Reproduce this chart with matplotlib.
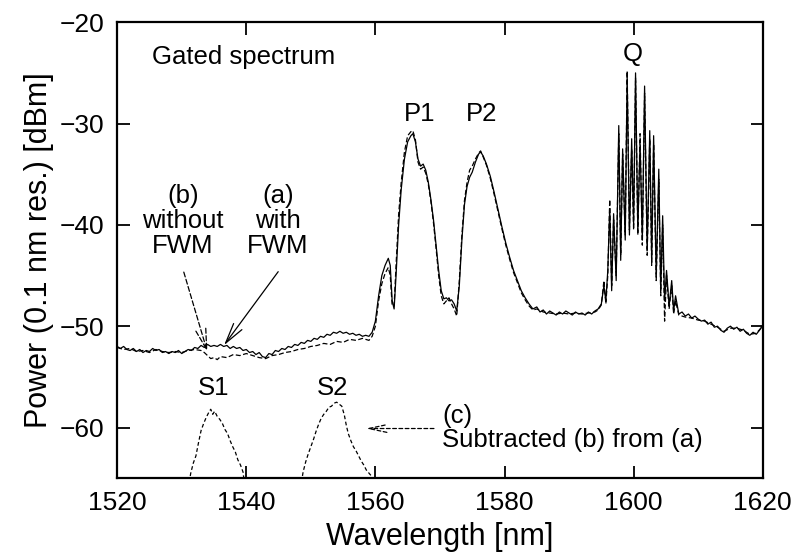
import matplotlib
matplotlib.use('Agg')
import matplotlib.pyplot as plt

plt.rcParams['font.family'] = ['Liberation Sans', 'DejaVu Sans']
plt.rcParams['font.size'] = 18.5

# (a) with FWM, solid
wl_a = [1520.0, 1520.5, 1521.0, 1521.5, 1522.0, 1522.5, 1523.0, 1523.5, 1524.0, 1524.5,
        1525.0, 1525.5, 1526.0, 1526.5, 1527.0, 1527.5, 1528.0, 1528.5, 1529.0, 1529.5,
        1530.0, 1530.5, 1531.0, 1531.5, 1532.0, 1532.5, 1533.0, 1533.5, 1534.0, 1534.5,
        1535.0, 1535.5, 1536.0, 1536.5, 1537.0, 1537.5, 1538.0, 1538.5, 1539.0, 1539.5,
        1540.0, 1540.5, 1541.0, 1541.5, 1542.0, 1542.5, 1543.0, 1543.5, 1544.0, 1544.5,
        1545.0, 1545.5, 1546.0, 1546.5, 1547.0, 1547.5, 1548.0, 1548.5, 1549.0, 1549.5,
        1550.0, 1550.5, 1551.0, 1551.5, 1552.0, 1552.5, 1553.0, 1553.5, 1554.0, 1554.5,
        1555.0, 1555.5, 1556.0, 1556.5, 1557.0, 1557.5, 1558.0, 1558.5, 1559.0, 1559.5,
        1560.0, 1560.5, 1561.0, 1561.5, 1562.0, 1562.3, 1562.6, 1562.9, 1563.2, 1563.6,
        1564.0, 1564.5, 1565.0, 1565.5, 1565.8, 1566.2, 1566.6, 1567.0, 1567.4, 1567.8,
        1568.2, 1568.6, 1569.0, 1569.4, 1569.8, 1570.2, 1570.6, 1571.0, 1571.4, 1571.8,
        1572.2, 1572.6, 1573.0, 1573.4, 1573.8, 1574.2, 1574.6, 1575.0, 1575.5, 1576.0,
        1576.3, 1576.7, 1577.2, 1577.8, 1578.4, 1579.0, 1579.6, 1580.2, 1580.8, 1581.4,
        1582.0, 1582.6, 1583.2, 1583.8, 1584.4, 1585.0, 1585.5, 1586.0, 1586.5, 1587.0,
        1587.5, 1588.0, 1588.5, 1589.0, 1589.5, 1590.0, 1590.5, 1591.0, 1591.5, 1592.0,
        1592.5, 1593.0, 1593.5, 1594.0, 1594.5, 1595.0, 1595.4, 1595.7, 1596.0, 1596.3,
        1596.6, 1596.9, 1597.3, 1597.7, 1598.0, 1598.3, 1598.7, 1599.0, 1599.35, 1599.7,
        1600.0, 1600.3, 1600.65, 1601.0, 1601.35, 1601.7, 1602.1, 1602.5, 1602.8, 1603.1,
        1603.5, 1603.9, 1604.2, 1604.5, 1604.8, 1605.1, 1605.5, 1605.9, 1606.2, 1606.5,
        1607.0, 1607.5, 1608.0, 1608.5, 1609.0, 1609.5, 1610.0, 1610.5, 1611.0, 1611.5,
        1612.0, 1612.5, 1613.0, 1613.5, 1614.0, 1614.5, 1615.0, 1615.5, 1616.0, 1616.5,
        1617.0, 1617.5, 1618.0, 1618.5, 1619.0, 1619.5, 1620.0]
pw_a = [-52.0, -52.2, -52.0, -52.3, -52.4, -52.2, -52.5, -52.3, -52.6, -52.4,
        -52.5, -52.2, -52.4, -52.3, -52.6, -52.5, -52.7, -52.5, -52.6, -52.4,
        -52.7, -52.5, -52.3, -52.4, -52.1, -52.2, -51.9, -52.1, -51.8, -52.0,
        -51.9, -52.0, -51.8, -52.0, -51.9, -52.2, -52.0, -52.2, -52.1, -52.4,
        -52.3, -52.6, -52.5, -52.8, -52.6, -53.0, -53.1, -52.7, -52.8, -52.4,
        -52.5, -52.2, -52.3, -52.0, -52.1, -51.8, -51.9, -51.6, -51.7, -51.4,
        -51.5, -51.2, -51.3, -51.0, -51.1, -50.8, -50.9, -50.6, -50.7, -50.5,
        -50.7, -50.6, -50.8, -50.7, -50.9, -50.8, -51.0, -50.9, -51.0, -50.6,
        -49.5, -47.0, -45.0, -44.0, -43.3, -44.0, -47.5, -48.3, -45.0, -40.0,
        -36.5, -33.5, -31.8, -31.2, -31.0, -31.8, -33.5, -34.2, -34.0, -34.6,
        -35.8, -37.5, -39.5, -42.0, -44.5, -46.5, -47.3, -47.2, -47.5, -47.4,
        -47.8, -48.5, -46.0, -41.5, -38.0, -36.2, -35.3, -34.8, -33.8, -33.0,
        -32.8, -33.2, -34.0, -35.2, -36.8, -38.5, -40.2, -41.8, -43.2, -44.5,
        -45.5, -46.5, -47.2, -47.8, -48.3, -48.1, -48.6, -48.4, -48.8, -48.5,
        -48.7, -48.9, -48.6, -48.8, -48.5, -48.7, -48.9, -48.6, -48.8, -48.7,
        -48.9, -48.6, -48.8, -48.5, -48.3, -47.8, -46.0, -47.5, -44.5, -38.4,
        -46.5, -38.9, -45.5, -30.2, -43.5, -32.5, -41.5, -25.3, -41.0, -31.5,
        -40.0, -25.0, -40.5, -32.0, -41.5, -26.3, -42.5, -30.7, -43.5, -31.2,
        -45.0, -34.5, -46.5, -39.1, -47.5, -44.5, -48.0, -45.5, -48.5, -47.0,
        -48.8, -48.6, -49.0, -48.8, -49.2, -49.0, -49.3, -49.5, -49.4, -49.8,
        -49.6, -50.1, -50.0, -50.4, -50.6, -50.2, -50.0, -50.3, -50.1, -50.5,
        -50.3, -50.7, -50.9, -50.6, -50.8, -50.4, -49.9]

# (b) without FWM, dashed
wl_b = [1520, 1521, 1522, 1523, 1524, 1525, 1526, 1527, 1528, 1529,
        1530, 1531, 1532, 1533, 1533.5, 1534, 1534.5, 1535, 1535.5, 1536,
        1537, 1538, 1539, 1540, 1541, 1542, 1543, 1544, 1545, 1546,
        1547, 1548, 1549, 1550, 1551, 1552, 1553, 1554, 1555, 1556,
        1557, 1558, 1559, 1559.5, 1560, 1560.5, 1561, 1561.5, 1562, 1562.3,
        1562.6, 1562.9, 1563.2, 1563.6, 1564, 1564.5, 1565, 1565.5, 1565.8, 1566.2,
        1566.6, 1567, 1567.4, 1567.8, 1568.2, 1568.6, 1569, 1569.4, 1569.8, 1570.2,
        1570.6, 1571, 1571.4, 1571.8, 1572.2, 1572.6, 1573, 1573.4, 1573.8, 1574.2,
        1574.6, 1575, 1575.5, 1576, 1576.3, 1576.7, 1577.2, 1577.8, 1578.4, 1579,
        1579.6, 1580.2, 1580.8, 1581.4, 1582, 1582.6, 1583.2, 1583.8, 1584.4, 1585,
        1586, 1587, 1588, 1589, 1590, 1591, 1592, 1593, 1594, 1594.5,
        1595, 1595.4, 1595.7, 1596.0, 1596.3, 1596.6, 1596.9, 1597.3, 1597.7, 1598.0,
        1598.3, 1598.7, 1599.0, 1599.35, 1599.7, 1600.0, 1600.3, 1600.65, 1601.0, 1601.35,
        1601.7, 1602.1, 1602.5, 1602.8, 1603.1, 1603.5, 1603.9, 1604.2, 1604.5, 1604.8,
        1605.1, 1605.5, 1605.9, 1606.2, 1606.5, 1607, 1608, 1609, 1610, 1611,
        1612, 1613, 1614, 1615, 1616, 1617, 1618, 1619, 1620]
pw_b = [-52.1, -52.3, -52.2, -52.5, -52.4, -52.6, -52.3, -52.5, -52.6, -52.5,
        -52.6, -52.4, -52.3, -52.4, -52.6, -52.9, -53.2, -53.1, -53.3, -53.0,
        -53.1, -52.8, -52.9, -52.7, -52.9, -53.1, -53.2, -52.9, -52.8, -52.6,
        -52.5, -52.3, -52.2, -52.0, -51.9, -51.7, -51.8, -51.5, -51.6, -51.3,
        -51.4, -51.2, -51.4, -51.0, -50.0, -47.5, -45.8, -44.8, -44.2, -45.0,
        -48.0, -48.0, -44.0, -39.0, -35.8, -32.8, -31.2, -30.8, -30.7, -31.6,
        -33.8, -34.5, -34.3, -34.9, -36.0, -37.7, -39.8, -42.3, -45.0, -47.0,
        -47.8, -47.5, -47.2, -47.8, -48.3, -49.0, -45.5, -41.0, -37.6, -35.8,
        -34.6, -34.2, -33.5, -32.9, -32.7, -33.3, -34.1, -35.4, -37.0, -38.7,
        -40.4, -42.0, -43.4, -44.7, -45.7, -46.7, -47.4, -48.0, -48.4, -48.3,
        -48.6, -48.7, -48.8, -48.7, -48.8, -48.7, -48.8, -48.7, -48.6, -48.4,
        -47.9, -45.5, -47.8, -45.0, -37.5, -46.0, -39.5, -45.0, -31.0, -43.0,
        -33.0, -41.0, -24.8, -40.5, -32.5, -40.5, -25.5, -41.0, -31.0, -42.0,
        -27.0, -43.0, -31.5, -44.0, -32.0, -45.5, -35.5, -47.0, -40.0, -49.5,
        -45.0, -48.3, -46.0, -48.8, -47.5, -48.9, -49.1, -49.2, -49.4, -49.5,
        -49.8, -50.1, -50.5, -50.2, -50.2, -50.4, -50.8, -50.7, -50.0]

# (c) subtracted (b) from (a): S1 and S2
wl_s1 = [1531.0, 1531.4, 1531.8, 1532.2, 1532.6, 1533.0, 1533.4, 1533.8, 1534.2, 1534.5,
         1534.8, 1535.1, 1535.5, 1535.9, 1536.3, 1536.7, 1537.1, 1537.5, 1537.9, 1538.3,
         1538.7, 1539.1, 1539.5, 1539.8]
pw_s1 = [-66.0, -64.5, -63.5, -62.8, -61.5, -60.3, -59.6, -59.0, -58.5, -58.2,
         -58.7, -58.4, -58.9, -59.2, -59.6, -60.2, -60.6, -61.3, -61.9, -62.4,
         -63.2, -63.7, -64.4, -66.0]
wl_s2 = [1548.4, 1548.8, 1549.2, 1549.6, 1550.0, 1550.4, 1550.8, 1551.2, 1551.6, 1552.0,
         1552.4, 1552.8, 1553.2, 1553.6, 1554.0, 1554.4, 1554.8, 1555.2, 1555.5, 1555.8,
         1556.2, 1556.6, 1557.0, 1557.4, 1557.8, 1558.2, 1558.6, 1559.0, 1559.4, 1559.7]
pw_s2 = [-66.0, -64.4, -63.4, -62.6, -61.9, -61.2, -60.4, -59.7, -59.1, -58.7,
         -58.4, -58.0, -57.9, -57.6, -57.5, -57.7, -57.9, -58.8, -59.8, -60.6,
         -61.3, -61.9, -62.3, -62.8, -63.3, -63.7, -64.2, -64.5, -64.8, -66.0]

x_ticks = [1520, 1540, 1560, 1580, 1600, 1620]
y_ticks = [-60, -50, -40, -30, -20]

fig = plt.figure(figsize=(7.97, 5.56), dpi=100)
ax = fig.add_axes([0.147, 0.140, 0.810, 0.820])

ax.plot(wl_a, pw_a, color='black', lw=0.9)
ax.plot(wl_b, pw_b, color='black', lw=0.9, ls=(0, (4, 2)))
ax.plot(wl_s1, pw_s1, color='black', lw=0.9, ls=(0, (3, 2)))
ax.plot(wl_s2, pw_s2, color='black', lw=0.9, ls=(0, (3, 2)))

ax.set_xlim(1520, 1620)
ax.set_ylim(-65, -20)
ax.set_xticks(x_ticks)
ax.set_yticks(y_ticks)
ax.tick_params(direction='in', length=9, width=1.3, top=True, right=True, pad=9,
               labelsize=19)
for s in ax.spines.values():
    s.set_linewidth(1.6)

ax.set_xlabel('Wavelength [nm]', fontsize=22, labelpad=5)
ax.set_ylabel('Power (0.1 nm res.) [dBm]', fontsize=22, labelpad=4)

# labels
ax.text(1525.4, -23.4, 'Gated spectrum', ha='left', va='center')
ax.text(1566.9, -29.1, 'P1', ha='center', va='center')
ax.text(1576.5, -29.1, 'P2', ha='center', va='center')
ax.text(1599.9, -23.1, 'Q', ha='center', va='center')
ax.text(1535.0, -56.1, 'S1', ha='center', va='center')
ax.text(1553.4, -56.1, 'S2', ha='center', va='center')

ax.text(1530.2, -39.6, '(b)\nwithout\nFWM', ha='center', va='center', linespacing=1.05)
ax.text(1544.9, -39.6, '(a)\nwith\nFWM', ha='center', va='center', linespacing=1.05)
ax.text(1570.3, -60.0, '(c)\nSubtracted (b) from (a)', ha='left', va='center', linespacing=1.0)

ax.annotate('', xy=(1536.3, -52.1), xytext=(1545.2, -44.4),
            arrowprops=dict(arrowstyle='->,head_length=0.8,head_width=0.2', color='black', lw=0.9))
ax.annotate('', xy=(1534.1, -52.8), xytext=(1530.2, -44.4),
            arrowprops=dict(arrowstyle='->,head_length=0.8,head_width=0.2', color='black', lw=0.9,
                            ls=(0, (4, 2))))
ax.annotate('', xy=(1558.1, -60.1), xytext=(1569.5, -60.1),
            arrowprops=dict(arrowstyle='->,head_length=0.7,head_width=0.15', color='black', lw=0.9,
                            ls=(0, (3, 2))))

fig.savefig('out.png', dpi=100)
